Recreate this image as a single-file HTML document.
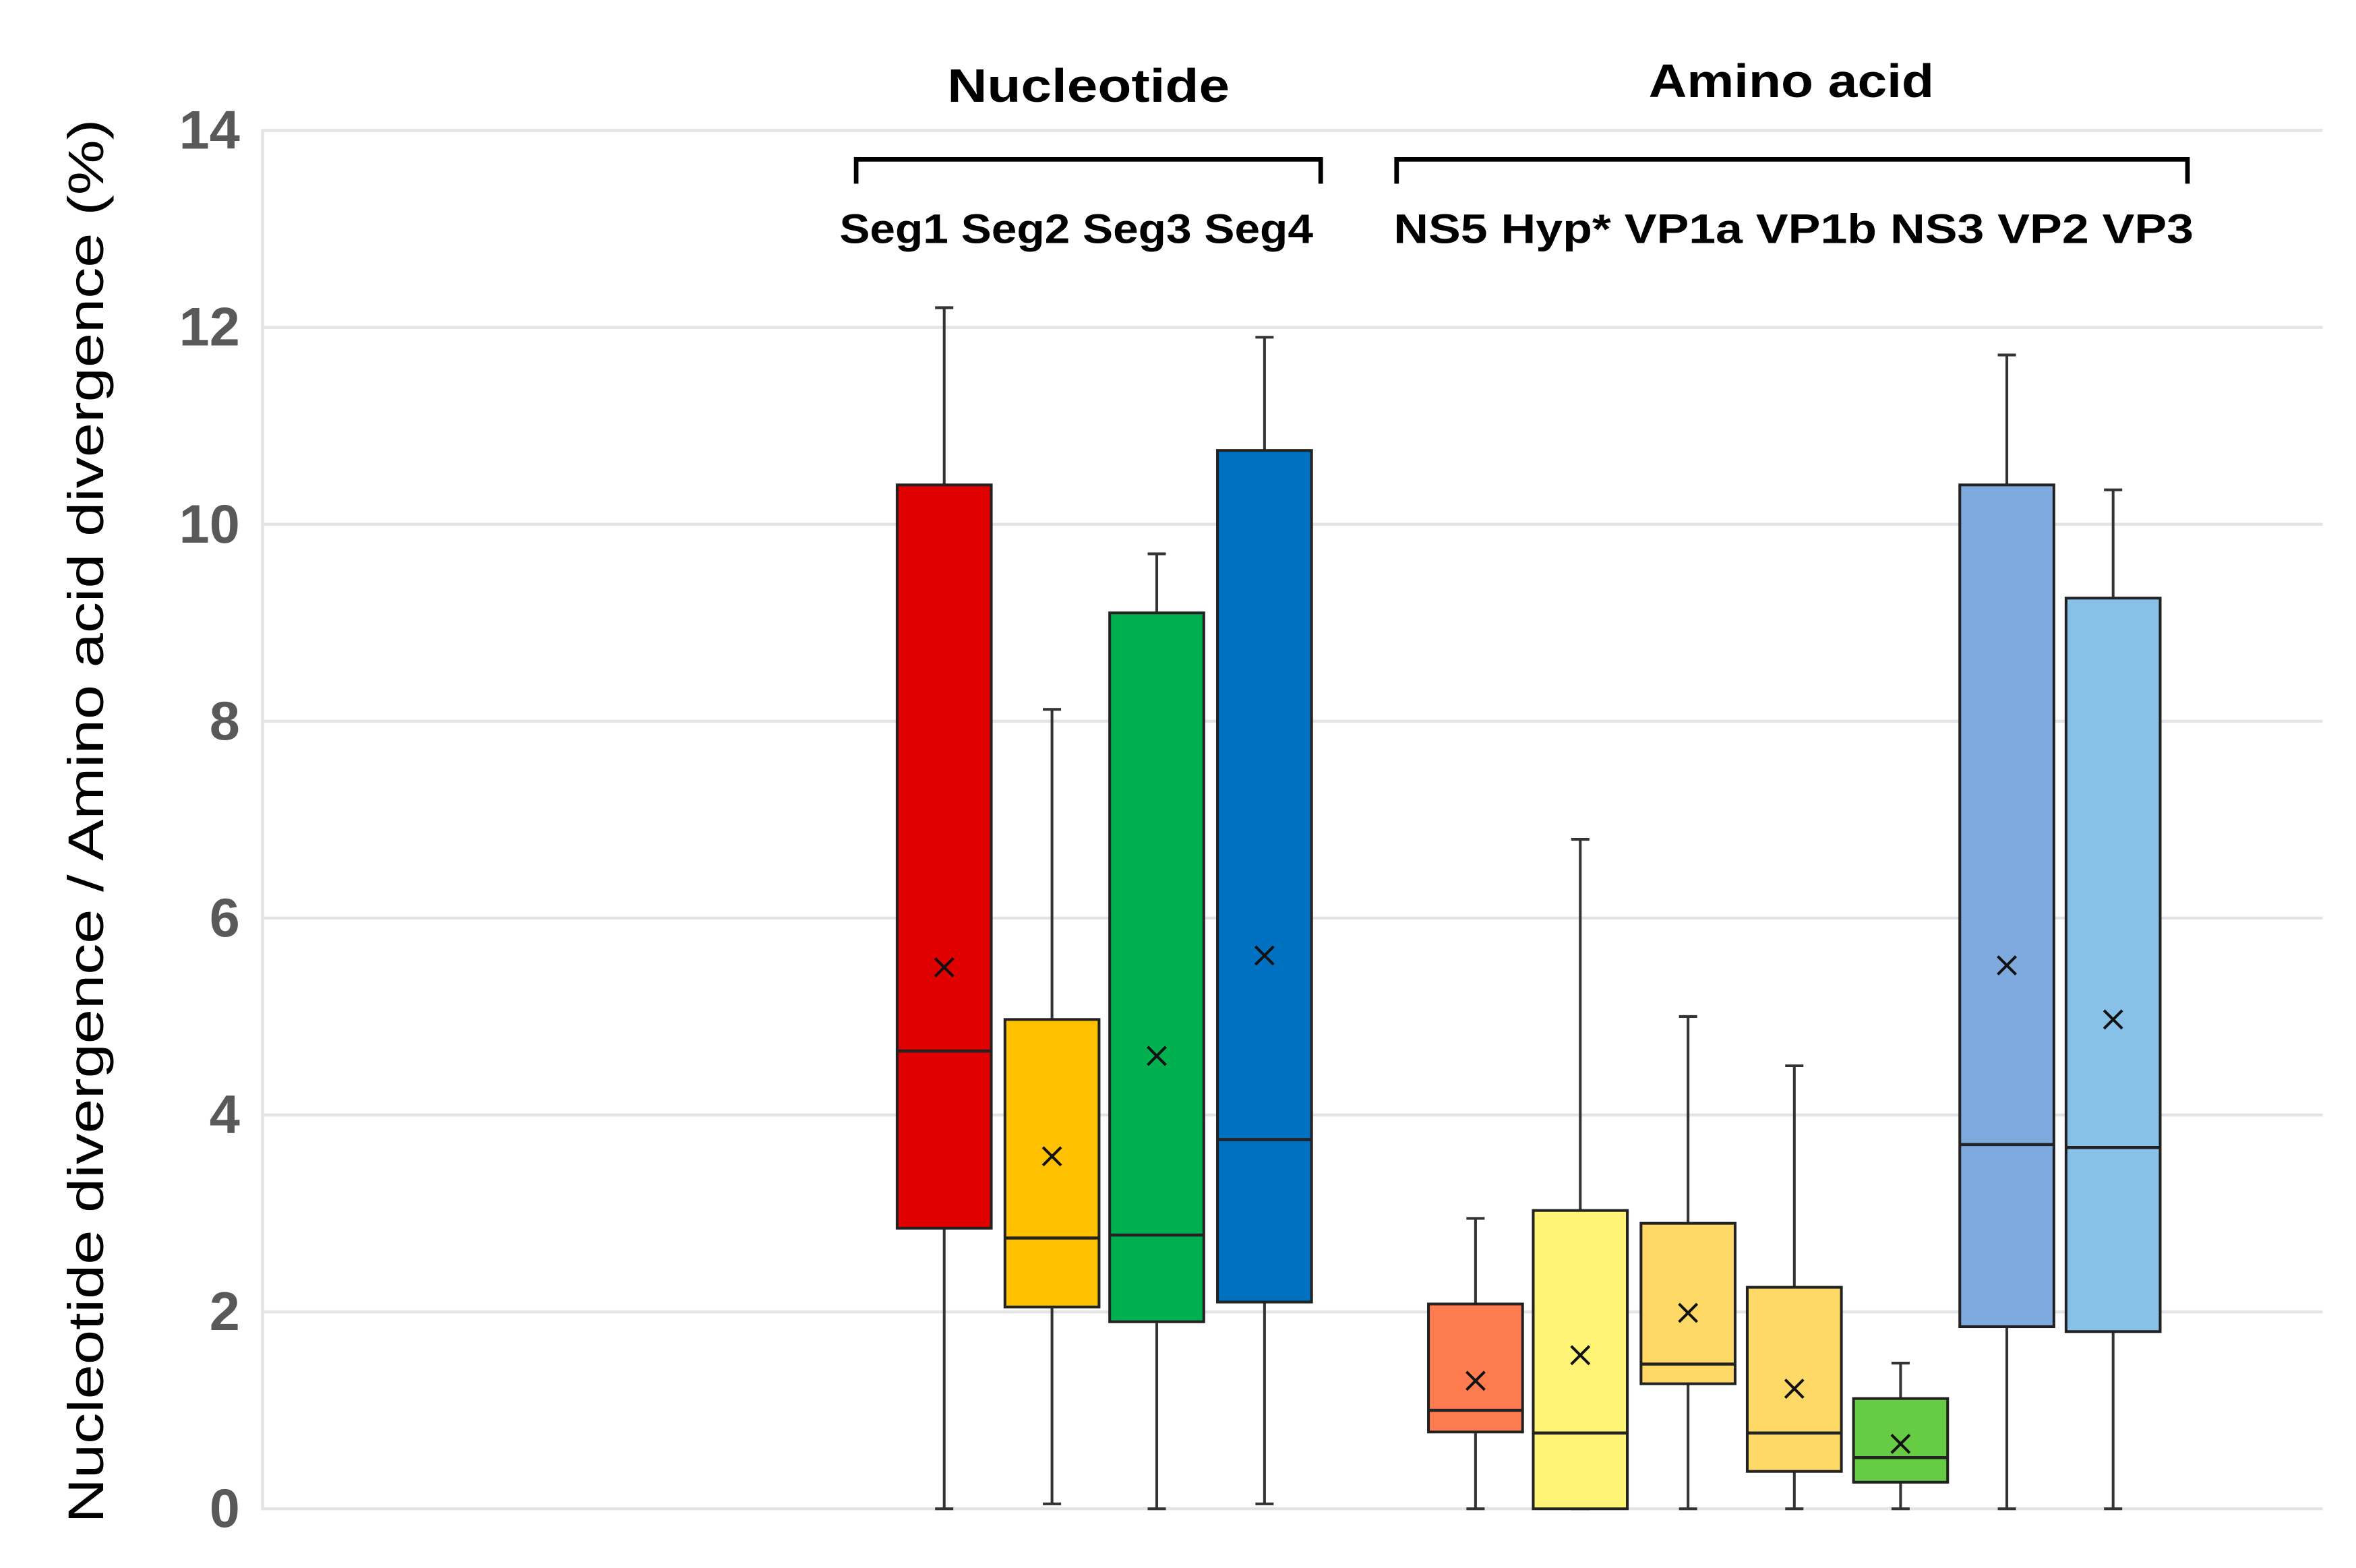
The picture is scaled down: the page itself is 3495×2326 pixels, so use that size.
<!DOCTYPE html>
<html><head><meta charset="utf-8"><style>
html,body{margin:0;padding:0;background:#fff;}
svg{display:block;}
text{font-family:"Liberation Sans",sans-serif;}
</style></head><body>
<svg id="chart" width="3495" height="2326" viewBox="0 0 1552 1033" preserveAspectRatio="none" xmlns="http://www.w3.org/2000/svg">
<g id="grid"></g>
<g id="yticks"></g>
<text transform="translate(68,541) rotate(-90)" text-anchor="middle" font-size="33" fill="#000" textLength="925" lengthAdjust="spacingAndGlyphs">Nucleotide divergence / Amino acid divergence (%)</text>
<text x="717" y="67" text-anchor="middle" font-size="31" font-weight="bold" textLength="186" lengthAdjust="spacingAndGlyphs">Nucleotide</text>
<text x="1180" y="64" text-anchor="middle" font-size="31" font-weight="bold" textLength="188" lengthAdjust="spacingAndGlyphs">Amino acid</text>
<path d="M564,121 V105 H870 V121" fill="none" stroke="#000" stroke-width="3"/>
<path d="M920,121 V105 H1441 V121" fill="none" stroke="#000" stroke-width="3"/>
<text x="553" y="160" font-size="27" font-weight="bold" textLength="312" lengthAdjust="spacingAndGlyphs">Seg1 Seg2 Seg3 Seg4</text>
<text x="918" y="160" font-size="27" font-weight="bold" textLength="527" lengthAdjust="spacingAndGlyphs">NS5 Hyp* VP1a VP1b NS3 VP2 VP3</text>
<g id="boxes"></g>
</svg>
<script>
const categories = ["Seg1","Seg2","Seg3","Seg4","NS5","Hyp*","VP1a","VP1b","NS3","VP2","VP3"];
const minVals    = [0,    0.05, 0,    0.05, 0,    0,    0,    0,    0,    0,    0];
const q1Vals     = [2.85, 2.05, 1.9,  2.1,  0.78, 0,    1.27, 0.38, 0.27, 1.85, 1.8];
const medianVals = [4.65, 2.75, 2.78, 3.75, 1.0,  0.77, 1.47, 0.77, 0.52, 3.7,  3.67];
const q3Vals     = [10.4, 4.97, 9.1,  10.75,2.08, 3.03, 2.9,  2.25, 1.12, 10.4, 9.25];
const maxVals    = [12.2, 8.12, 9.7,  11.9, 2.95, 6.8,  5.0,  4.5,  1.48, 11.72,10.35];
const meanVals   = [5.5,  3.58, 4.6,  5.62, 1.3,  1.56, 1.99, 1.22, 0.66, 5.52, 4.97];
const colors     = ["#e00000","#ffc000","#00b050","#0070c0","#ff7c50","#fff475","#ffd966","#ffd966","#66cc44","#7faadf","#87c1e8"];
const yTicks     = [0,2,4,6,8,10,12,14];

const NS="http://www.w3.org/2000/svg";
function y(v){return 994 - v*64.86;}
const centers=[622,693,762,833,972,1041,1112,1182,1252,1322,1392];
function x(i){return centers[i];}
function mk(tag,attrs,parent){const e=document.createElementNS(NS,tag);for(const k in attrs)e.setAttribute(k,attrs[k]);parent.appendChild(e);return e;}

const grid=document.getElementById('grid');
const yt=document.getElementById('yticks');
yTicks.forEach(t=>{
  const l=mk('line',{x1:172,x2:1530,y1:y(t),y2:y(t),stroke:'#e4e4e4','stroke-width':2},grid);
  
  
  const tx=mk('text',{x:158,y:y(t)+12,'text-anchor':'end','font-size':36,'font-weight':'bold',fill:'#595959'},yt);
  tx.textContent=t;
  
  
});
const ax=mk('line',{x1:173,x2:173,y1:y(14),y2:y(0),stroke:'#e4e4e4','stroke-width':2},grid);



const boxes=document.getElementById('boxes');
categories.forEach((c,i)=>{
  const g=mk('g',{},boxes);
  
  
  const cx=x(i), hw=31;
  mk('line',{x1:cx,x2:cx,y1:y(maxVals[i]),y2:y(minVals[i]),stroke:'#333','stroke-width':1.8},g);
  mk('line',{x1:cx-6,x2:cx+6,y1:y(maxVals[i]),y2:y(maxVals[i]),stroke:'#333','stroke-width':1.8},g);
  mk('line',{x1:cx-6,x2:cx+6,y1:y(minVals[i]),y2:y(minVals[i]),stroke:'#333','stroke-width':1.8},g);
  mk('rect',{x:cx-hw,y:y(q3Vals[i]),width:hw*2,height:y(q1Vals[i])-y(q3Vals[i]),fill:colors[i],stroke:'#222','stroke-width':1.8},g);
  mk('line',{x1:cx-hw,x2:cx+hw,y1:y(medianVals[i]),y2:y(medianVals[i]),stroke:'#222','stroke-width':2},g);
  const my=y(meanVals[i]);
  mk('path',{d:`M${cx-6},${my-6}L${cx+6},${my+6}M${cx-6},${my+6}L${cx+6},${my-6}`,stroke:'#111','stroke-width':1.8},g);
});
</script>
</body></html>
